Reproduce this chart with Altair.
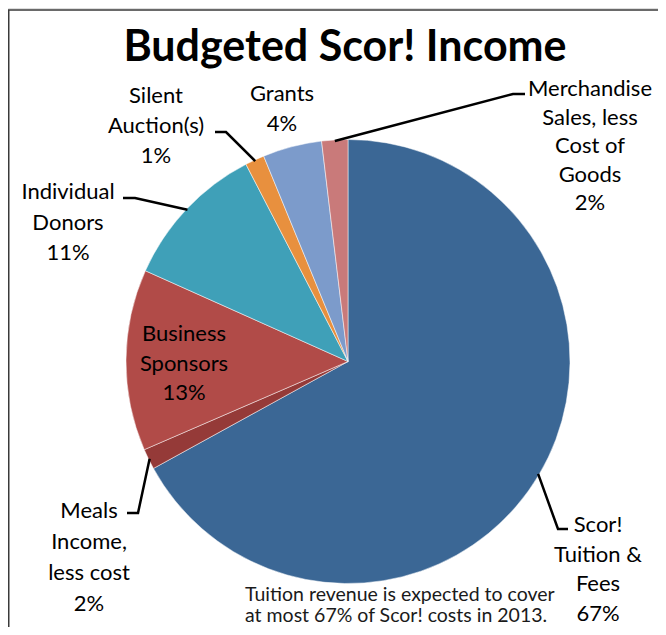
import math
import altair as alt
import pandas as pd

# ---- data ----
categories = [
    "Scor! Tuition & Fees",
    "Meals Income, less cost",
    "Business Sponsors",
    "Individual Donors",
    "Silent Auction(s)",
    "Grants",
    "Merchandise Sales, less Cost of Goods",
]
shares = [67.0, 1.5, 13.2, 10.7, 1.4, 4.3, 1.9]
pct_labels = ["67%", "2%", "13%", "11%", "1%", "4%", "2%"]
label_lines = [
    ["Scor!", "Tuition &", "Fees"],
    ["Meals", "Income,", "less cost"],
    ["Business", "Sponsors"],
    ["Individual", "Donors"],
    ["Silent", "Auction(s)"],
    ["Grants"],
    ["Merchandise", "Sales, less", "Cost of", "Goods"],
]
title_text = "Budgeted Scor! Income"
footnote_lines = ["Tuition revenue is expected to cover", "at most 67% of Scor! costs in 2013."]

# ---- style / layout ----
colors = ["#3B6795", "#953A38", "#B14B48", "#3FA0B8", "#E8903E", "#7C9BCB", "#C97A7A"]
OFF = 8  # page margin
CX, CY, R = 348 - OFF, 361.5 - OFF, 222
W, H = 650, 619
FONT = "Lato"

# label block layout (page coords): center x, first baseline, line step
label_layout = {
    0: (598, 532, 29.5),
    1: (89, 518, 31),
    2: (184, 341, 29.5),
    3: (68, 199, 30.5),
    4: (156, 103, 30),
    5: (282, 101, 30),
    6: (590, 96, 28.5),
}
# leader lines: elbow point and end point (page coords)
leader_layout = {
    0: [(558, 529), (568, 529)],
    1: [(138, 513), (127, 513)],
    3: [(135, 198), (123, 198)],
    4: [(226, 132), (215, 132)],
    6: [(513, 94), (525, 94)],
}

pie_df = pd.DataFrame({"category": categories, "share": shares, "idx": list(range(len(categories)))})

# text rows
rows = []
for i, lines in enumerate(label_lines):
    x, y0, step = label_layout[i]
    allines = lines + [pct_labels[i]]
    for k, t in enumerate(allines):
        rows.append({"t": t, "px": x - OFF, "py": y0 + k * step - OFF})
text_df = pd.DataFrame(rows)

# leader rows
total = sum(shares)
cum = 0.0
mids = []
for s in shares:
    mids.append((cum + s / 2) / total * 2 * math.pi)
    cum += s
lrows = []
for i, pts in leader_layout.items():
    a = mids[i]
    rx = CX + R * 0.995 * math.sin(a)
    ry = CY - R * 0.995 * math.cos(a)
    lrows.append({"id": i, "o": 0, "px": rx, "py": ry})
    for k, (x, y) in enumerate(pts):
        lrows.append({"id": i, "o": k + 1, "px": x - OFF, "py": y - OFF})
lead_df = pd.DataFrame(lrows)

foot_df = pd.DataFrame({"t": footnote_lines, "px": [245 - OFF] * 2, "py": [601 - OFF, 622 - OFF]})
title_df = pd.DataFrame({"t": [title_text], "px": [345 - OFF], "py": [61 - OFF]})

frame = alt.Chart(pd.DataFrame({"a": [0]})).mark_rect(
    fill=None, stroke="#3a3a3a", strokeWidth=1.5
).encode(x=alt.value(0.75), y=alt.value(2), x2=alt.value(W + 20), y2=alt.value(H + 20))

pie = alt.Chart(pie_df).mark_arc(
    outerRadius=R, stroke="white", strokeWidth=0.7, strokeOpacity=0.7
).encode(
    theta=alt.Theta("share:Q", stack=True),
    color=alt.Color("category:N", scale=alt.Scale(domain=categories, range=colors), legend=None),
    order=alt.Order("idx:Q"),
    x=alt.value(CX),
    y=alt.value(CY),
)

leaders = alt.Chart(lead_df).mark_line(color="black", strokeWidth=2.5, strokeCap="butt").encode(
    x=alt.X("px:Q", scale=None),
    y=alt.Y("py:Q", scale=None),
    detail="id:N",
    order="o:Q",
)

labels = alt.Chart(text_df).mark_text(
    font=FONT, fontSize=22, color="black", align="center", baseline="alphabetic"
).encode(x=alt.X("px:Q", scale=None), y=alt.Y("py:Q", scale=None), text="t:N")

foot = alt.Chart(foot_df).mark_text(
    font=FONT, fontSize=19.5, color="#1a1a1a", align="left", baseline="alphabetic"
).encode(x=alt.X("px:Q", scale=None), y=alt.Y("py:Q", scale=None), text="t:N")

title = alt.Chart(title_df).mark_text(
    font=FONT, fontSize=43, fontWeight="bold", color="black", align="center", baseline="alphabetic"
).encode(x=alt.X("px:Q", scale=None), y=alt.Y("py:Q", scale=None), text="t:N")

chart = alt.layer(frame, pie, leaders, labels, foot, title).properties(
    width=W, height=H, padding=0, autosize="none"
).configure_view(stroke=None).configure(background="white")

chart.save("out.html", embed_options={"renderer": "svg", "actions": False})
